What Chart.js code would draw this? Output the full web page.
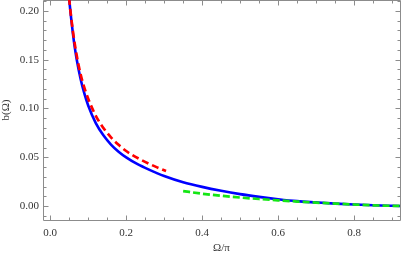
<!DOCTYPE html>
<html>
<head>
<meta charset="utf-8">
<script src="https://cdn.jsdelivr.net/npm/chart.js@4.4.1/dist/chart.umd.min.js"></script>
<style>
  html, body { margin: 0; padding: 0; background: #fff; }
  canvas { display: block; }
</style>
</head>
<body>
<canvas id="grafico" width="402" height="259"></canvas>
<script>
  // curva completa b(Ω) (azul)
  const omegaExato = [0.045, 0.05, 0.055, 0.06, 0.065, 0.07, 0.08, 0.09, 0.10, 0.12, 0.14, 0.16, 0.18, 0.20, 0.23, 0.26, 0.30, 0.35, 0.40, 0.45, 0.50, 0.55, 0.60, 0.65, 0.70, 0.75, 0.80, 0.85, 0.90, 0.93];
  const bExato = [0.2356, 0.212, 0.1927, 0.1758, 0.1615, 0.1497, 0.1302, 0.1151, 0.1030, 0.0850, 0.0725, 0.0631, 0.0558, 0.0500, 0.0430, 0.0375, 0.0310, 0.0246, 0.0198, 0.0158, 0.0124, 0.0096, 0.0072, 0.0052, 0.0039, 0.0027, 0.00175, 0.00094, 0.00044, 0.0002];

  // aproximação para Ω pequeno (vermelho tracejado)
  const omegaPequeno = [0.045, 0.05, 0.06, 0.07, 0.08, 0.09, 0.10, 0.12, 0.14, 0.16, 0.18, 0.20, 0.22, 0.24, 0.26, 0.28, 0.305];
  const bPequeno = [0.2356, 0.212, 0.1783, 0.1536, 0.135, 0.1211, 0.110, 0.0925, 0.0801, 0.0704, 0.0628, 0.0565, 0.0515, 0.0473, 0.0435, 0.0400, 0.0361];

  // aproximação para Ω grande (verde tracejado)
  const omegaGrande = [0.35, 0.40, 0.45, 0.50, 0.55, 0.60, 0.65, 0.70, 0.75, 0.80, 0.85, 0.90, 0.93];
  const bGrande = [0.0155, 0.0128, 0.0107, 0.0089, 0.0074, 0.0060, 0.0048, 0.0037, 0.0027, 0.00175, 0.00094, 0.00044, 0.0002];

  const xTicks = [0, 0.2, 0.4, 0.6, 0.8];
  const xTickLabels = ['0.0', '0.2', '0.4', '0.6', '0.8'];
  const xMinorTicks = [0.05, 0.1, 0.15, 0.25, 0.3, 0.35, 0.45, 0.5, 0.55, 0.65, 0.7, 0.75, 0.85, 0.9];
  const yTicks = [0, 0.05, 0.1, 0.15, 0.2];
  const yTickLabels = ['0.00', '0.05', '0.10', '0.15', '0.20'];
  const yMinorTicks = [-0.01, 0.01, 0.02, 0.03, 0.04, 0.06, 0.07, 0.08, 0.09, 0.11, 0.12, 0.13, 0.14, 0.16, 0.17, 0.18, 0.19, 0.21];

  const corMoldura = '#8c8c8c';
  const fonteSerif = '"Liberation Serif", "Times New Roman", serif';

  const pontos = (xs, ys) => xs.map((x, i) => ({ x, y: ys[i] }));

  // moldura estilo Mathematica, com marcas para dentro nos quatro lados
  const molduraPlugin = {
    id: 'moldura',
    beforeDatasetsDraw(chart) {
      const { ctx, chartArea: a, scales: { x, y } } = chart;
      const L = Math.round(a.left) + 0.5, R = Math.round(a.right) + 0.5;
      const T = Math.round(a.top) + 0.5, B = Math.round(a.bottom) + 0.5;
      ctx.save();
      ctx.strokeStyle = corMoldura;
      ctx.lineWidth = 1;
      ctx.beginPath();
      ctx.moveTo(L, T); ctx.lineTo(L, B); ctx.lineTo(R, B); ctx.lineTo(R, T); ctx.lineTo(L, T);

      const marcaX = (v, len) => {
        const px = Math.round(x.getPixelForValue(v)) + 0.5;
        ctx.moveTo(px, B); ctx.lineTo(px, B - len);
        ctx.moveTo(px, T); ctx.lineTo(px, T + len);
      };
      const marcaY = (v, len) => {
        const py = Math.round(y.getPixelForValue(v)) + 0.5;
        ctx.moveTo(L, py); ctx.lineTo(L + len, py);
        ctx.moveTo(R, py); ctx.lineTo(R - len, py);
      };
      xTicks.forEach(v => marcaX(v, 5));
      xMinorTicks.forEach(v => marcaX(v, 3));
      yTicks.forEach(v => marcaY(v, 5));
      yMinorTicks.forEach(v => marcaY(v, 3));
      ctx.stroke();
      ctx.restore();
    }
  };

  const ctx = document.getElementById('grafico').getContext('2d');
  new Chart(ctx, {
    type: 'line',
    data: {
      datasets: [
        {
          label: 'Ω pequeno',
          data: pontos(omegaPequeno, bPequeno),
          borderColor: '#ff0000',
          borderWidth: 2.7,
          borderDash: [7, 4],
          pointRadius: 0,
          cubicInterpolationMode: 'monotone'
        },
        {
          label: 'Ω grande',
          data: pontos(omegaGrande, bGrande),
          borderColor: 'rgb(20, 230, 20)',
          borderWidth: 2.7,
          borderDash: [7, 3],
          pointRadius: 0,
          cubicInterpolationMode: 'monotone'
        },
        {
          label: 'b(Ω)',
          data: pontos(omegaExato, bExato),
          borderColor: '#0000ff',
          borderWidth: 2.6,
          pointRadius: 0,
          cubicInterpolationMode: 'monotone'
        }
      ]
    },
    options: {
      responsive: false,
      animation: false,
      devicePixelRatio: 1,
      layout: { padding: { top: 0, right: 2, bottom: 0, left: 0 } },
      plugins: {
        legend: { display: false },
        tooltip: { enabled: false }
      },
      scales: {
        x: {
          type: 'linear',
          min: -0.019,
          max: 0.921,
          grid: { display: false, drawTicks: false },
          border: { display: false },
          afterBuildTicks: s => { s.ticks = xTicks.map(v => ({ value: v })); },
          afterFit: s => { s.height = 39; s.paddingLeft = 0; s.paddingRight = 0; },
          ticks: {
            padding: 7,
            maxRotation: 0,
            autoSkip: false,
            color: '#333',
            font: { family: fonteSerif, size: 11 },
            callback: (v, i) => xTickLabels[i]
          },
          title: {
            display: true,
            text: 'Ω/π',
            color: '#333',
            font: { family: fonteSerif, size: 11 },
            padding: { top: 0, bottom: 4 }
          }
        },
        y: {
          type: 'linear',
          min: -0.0141,
          max: 0.211,
          grid: { display: false, drawTicks: false },
          border: { display: false },
          afterBuildTicks: s => { s.ticks = yTicks.map(v => ({ value: v })); },
          afterFit: s => { s.width = 43; s.paddingTop = 0; s.paddingBottom = 0; },
          ticks: {
            padding: 4,
            autoSkip: false,
            color: '#333',
            font: { family: fonteSerif, size: 11 },
            callback: (v, i) => yTickLabels[i]
          },
          title: {
            display: true,
            text: 'b(Ω)',
            color: '#333',
            font: { family: fonteSerif, size: 11 },
            padding: { top: 0, bottom: 0 }
          }
        }
      }
    },
    plugins: [molduraPlugin]
  });
</script>
</body>
</html>
